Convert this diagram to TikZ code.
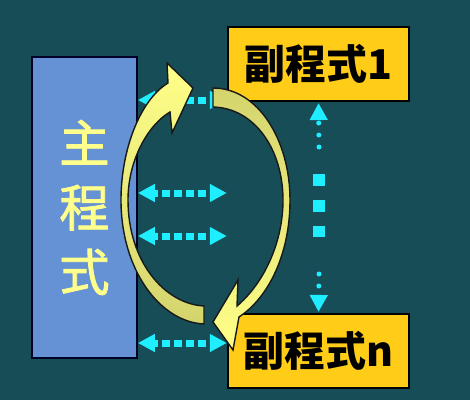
\documentclass[tikz,border=0pt]{standalone}
\usepackage{fontspec}
\usepackage{tikz}
\usetikzlibrary{arrows.meta}
\newfontfamily\cjk{Noto Sans CJK TC}
\newfontfamily\cjkmain[AutoFakeBold=1.6]{Noto Sans CJK TC}
\definecolor{bgteal}{RGB}{22,77,87}
\definecolor{mainblue}{RGB}{100,146,212}
\definecolor{maintext}{RGB}{255,255,140}
\definecolor{subgold}{RGB}{255,204,24}
\definecolor{linkcyan}{RGB}{30,238,255}
\definecolor{arcbright}{RGB}{255,255,136}
\definecolor{arcdull}{RGB}{212,212,110}

\begin{document}
\begin{tikzpicture}[
            x = 0.03cm, y = -0.03cm, % one unit per pixel, y going down
            > = {Triangle[length=0.51cm, width=0.51cm]}, % arrow head style
            shorten > = 1pt, % don't touch arrow head to node
            semithick % line style
        ]
        \tikzstyle{main box}=[
            draw = black!85!blue,
            line width = 1.5pt,
            fill = mainblue,
            text = maintext,
            font = \cjkmain\bfseries\fontsize{43}{55}\selectfont,
            align = center,
            minimum width = 3.15cm,
            minimum height = 9.03cm
        ]
        \tikzstyle{sub box}=[
            draw = black,
            line width = 1.5pt,
            fill = subgold,
            font = \cjk\bfseries\fontsize{35}{40}\selectfont,
            minimum width = 5.43cm,
            minimum height = 2.22cm
        ]
        \tikzstyle{link}=[<->, linkcyan, line width = 0.21cm,
            dash pattern = on 0.24cm off 0.12cm, dash phase = 0.12cm]
        \tikzstyle{dots}=[linkcyan, line width = 0.15cm, line cap = round,
            dash pattern = on 0pt off 0.36cm]
        \tikzstyle{arc arrow}=[draw = black!90, line width = 1.2pt]

        \useasboundingbox (0,0) rectangle (470,419);
        \fill[white] (0,0) rectangle (470,419);
        \fill[bgteal] (0,0) rectangle (470,400);

        \node[main box] (main) at (84.5,207.5) {主\\程\\式};
        \node[sub box] (sub1) at (318.5,64) {副程式1};
        \node[sub box] (subn) at (318.5,351) {副程式n};

        % horizontal links
        \coordinate (h1) at (228,100);
        \coordinate (h2) at (228,193);
        \coordinate (h3) at (228,236);
        \coordinate (h4) at (228,343);
        \foreach \h in {h1, h2, h3, h4}
            \draw[link] (main.east |- \h) -- (\h);

        % vertical link between the sub programs
        \coordinate (v1) at (319,147);
        \coordinate (v2) at (319,274);
        \draw[dots, ->] (v1) -- (sub1.south);
        \draw[dots, ->] (v2) -- (subn.north);
        \draw[linkcyan, line width = 0.36cm, dash pattern = on 0.36cm off 0.42cm]
            (319,174) -- (319,238);

        % call and return arrows
        \path[arc arrow, top color = arcbright, bottom color = arcdull]
            (204,324) .. controls (160,322) and (121,270) .. (121,200)
            .. controls (121,150) and (140,100) .. (168,83)
            -- (167,63) -- (193,88) -- (172,133) -- (170,112)
            .. controls (148,125) and (128,160) .. (128,200)
            .. controls (128,262) and (165,304) .. (204,306) -- cycle;
        \path[arc arrow, top color = arcdull, bottom color = arcbright]
            (213,88) .. controls (258,88) and (290,140) .. (290,200)
            .. controls (290,255) and (268,298) .. (239,317)
            -- (233,350) -- (213,322) -- (238,280) -- (237,306)
            .. controls (262,285) and (283,245) .. (283,200)
            .. controls (283,150) and (255,108) .. (213,107) -- cycle;
    \end{tikzpicture}
\end{document}
